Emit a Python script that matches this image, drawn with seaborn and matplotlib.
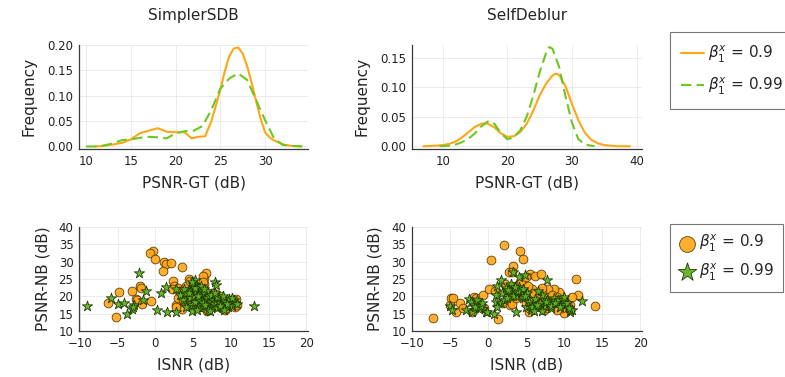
import matplotlib
matplotlib.use("Agg")
import matplotlib.pyplot as plt
import seaborn as sns

# ---------------- data ----------------
# Density curves of PSNR-GT (top row)
sdb_09_x = [11, 12, 13, 14, 15, 16, 17, 18, 19, 20, 21, 21.8, 22.5, 23.3, 24, 24.5, 25, 25.5, 26, 26.5, 27, 27.5, 28, 28.5, 29, 29.5, 30, 30.5, 31, 32, 33, 34]
sdb_09_y = [0.000, 0.001, 0.004, 0.007, 0.014, 0.026, 0.031, 0.036, 0.029, 0.028, 0.028, 0.016, 0.019, 0.020, 0.050, 0.080, 0.112, 0.148, 0.178, 0.193, 0.195, 0.183, 0.158, 0.125, 0.090, 0.055, 0.028, 0.018, 0.012, 0.004, 0.001, 0.000]
sdb_099_x = [10, 11, 12, 13, 14, 15, 16, 17, 18, 19, 20, 21, 22, 23, 24, 25, 26, 27, 28, 29, 30, 31, 32, 33, 34.5]
sdb_099_y = [0.000, 0.000, 0.002, 0.006, 0.0125, 0.014, 0.017, 0.019, 0.018, 0.016, 0.026, 0.030, 0.031, 0.040, 0.072, 0.114, 0.134, 0.144, 0.131, 0.091, 0.052, 0.016, 0.003, 0.001, 0.000]

sdl_09_x = [7, 9, 10, 11, 12, 13, 14, 15, 16, 16.5, 17, 18, 19, 20, 21, 22, 23, 24, 25, 26, 27, 27.5, 28, 29, 30, 31, 32, 33, 34, 35, 37, 39]
sdl_09_y = [0.000, 0.001, 0.002, 0.004, 0.008, 0.015, 0.024, 0.033, 0.038, 0.039, 0.038, 0.032, 0.022, 0.016, 0.017, 0.024, 0.038, 0.060, 0.086, 0.106, 0.120, 0.123, 0.121, 0.102, 0.072, 0.044, 0.023, 0.011, 0.005, 0.002, 0.000, 0.000]
sdl_099_x = [9.5, 11, 12, 13, 14, 15, 16, 17, 17.3, 18, 19, 20, 21, 22, 23, 24, 25, 26, 26.5, 27, 28, 29, 30, 31, 32, 33.5]
sdl_099_y = [0.000, 0.001, 0.003, 0.007, 0.013, 0.022, 0.034, 0.042, 0.043, 0.038, 0.022, 0.012, 0.015, 0.027, 0.050, 0.085, 0.125, 0.158, 0.168, 0.165, 0.135, 0.085, 0.040, 0.012, 0.003, 0.000]

# Scatter ISNR vs PSNR-NB (bottom row)
sdb_isnr_09 = [-0.3, -0.7, 0.0, 1.1, 1.4, 2.1, 3.5, 1.0, 4.5, 2.4, 6.4, 6.7, 6.3, -4.8, -3.1, -2.0, -1.9, -6.3, -2.5, -2.4, -1.7, -0.6, -5.2, 3.5, 2.7,
               2.5, 3.0, 3.3, 3.8, 4.2, 4.5, 4.8, 5.0, 5.2, 5.5, 5.5, 5.8, 6.0, 6.2, 6.5, 6.5, 6.8, 7.0, 7.0, 7.2,
               7.5, 7.8, 8.0, 8.2, 8.5, 8.8, 9.0, 9.2, 9.5, 9.8, 10.0, 10.3, 10.5, 10.7, 10.8,
               3.0, 3.5, 2.8, 4.0, 4.6, 5.8, 6.8, 7.5, 8.6, 9.3, 3.6, 4.3, 5.3, 2.2, 6.3]
sdb_psnr_09 = [33.2, 32.4, 30.8, 29.9, 29.3, 29.5, 28.6, 27.4, 25.0, 24.3, 25.2, 26.7, 25.9, 21.2, 21.6, 22.9, 22.5, 18.1, 19.3, 19.0, 17.7, 18.7, 14.0, 16.3, 17.5,
               23.0, 22.5, 21.5, 22.0, 21.0, 20.0, 19.0, 20.5, 18.5, 17.5, 22.0, 21.0, 19.5, 18.0, 17.0, 23.5, 20.5, 19.0, 16.0, 17.5,
               18.5, 20.0, 20.8, 19.5, 18.0, 17.0, 19.0, 16.0, 18.5, 17.5, 19.0, 18.0, 16.8, 19.2, 17.5,
               19.5, 20.5, 17.0, 23.0, 24.5, 17.0, 15.8, 21.0, 20.2, 16.5, 19.0, 18.0, 23.0, 22.0, 24.0]
sdb_isnr_099 = [-9.1, -5.8, -5.0, -4.2, -3.7, -3.1, -2.8, -3.0, -2.2, -1.3, -1.6, 0.2, 0.8, 1.4, 2.7, 1.5, 2.7, 4.9, 5.2, 7.9, 8.0, 13.1,
                3.2, 3.6, 4.0, 4.2, 4.4, 4.6, 4.8, 5.0, 5.1, 5.3, 5.4, 5.6, 5.8, 5.9, 6.0, 6.2, 6.3, 6.5, 6.6, 6.8,
                7.0, 7.1, 7.3, 7.5, 7.6, 7.8, 8.0, 8.2, 8.4, 8.6, 8.8, 9.0, 9.2, 9.4, 9.6, 9.8, 10.0, 10.2, 10.4, 10.6,
                3.8, 4.5, 5.2, 5.7, 6.1, 6.9, 7.4, 8.1, 8.9, 9.5, 4.1, 4.9, 5.5, 6.4, 7.2, 7.9, 8.5, 9.1, 10.1, 10.8]
sdb_psnr_099 = [17.2, 19.6, 17.7, 18.2, 14.8, 16.4, 17.4, 17.0, 26.7, 21.6, 18.8, 16.1, 21.1, 22.8, 22.2, 15.6, 15.6, 15.9, 24.8, 24.0, 23.3, 17.3,
                20.5, 19.0, 21.0, 18.0, 22.0, 19.5, 17.5, 23.5, 20.0, 18.5, 21.5, 17.0, 22.5, 19.0, 16.5, 20.5, 18.0, 21.0, 17.5, 19.5,
                16.0, 20.0, 18.5, 17.0, 19.0, 17.8, 18.5, 16.5, 19.5, 18.0, 17.0, 19.0, 17.5, 18.5, 16.8, 19.2, 18.0, 17.2, 19.0, 18.2,
                22.0, 21.0, 22.5, 20.0, 23.0, 21.5, 20.5, 19.8, 20.0, 17.8, 17.0, 24.0, 16.2, 22.0, 15.8, 21.0, 17.2, 16.0, 19.6, 17.8]

sdl_isnr_09 = [-7.3, 2.1, 4.2, 4.6, 0.4, 3.3, 2.7, 3.1, 5.5, 6.1, 6.9, 11.6, 14.0, -5.1, -4.9, -4.6, -4.2, -3.8, -3.3, -2.2,
               -1.9, -1.6, -0.7, -0.6, 0.1, 0.9, 1.3, 1.9, 2.8, 3.1, 3.2, 4.4, 5.4, 9.9, 10.8, 11.8, 11.0, 9.3, 8.6, 7.9,
               2.5, 3.0, 3.5, 3.8, 4.0, 4.3, 4.7, 5.0, 5.3, 5.6, 5.9, 6.2, 6.5, 6.8, 7.0, 7.3, 7.6, 7.9, 8.2, 8.5,
               8.8, 9.1, 9.4, 9.7, 10.0, 10.3, 2.2, 3.6, 4.5, 5.8, 6.4, 7.1, 7.7, 8.4, 9.0, 4.9, 6.0, 7.4, 5.2, 6.7]
sdl_psnr_09 = [13.8, 34.7, 33.1, 30.9, 30.4, 28.7, 27.1, 26.9, 26.3, 25.9, 26.5, 25.0, 17.3, 17.5, 19.4, 19.6, 15.4, 18.2, 16.5, 15.4,
               19.9, 19.4, 20.4, 16.7, 22.1, 21.6, 13.4, 18.2, 17.5, 17.7, 21.3, 24.3, 15.6, 15.1, 17.5, 20.4, 19.9, 21.3, 22.1, 22.1,
               22.5, 21.0, 23.0, 20.5, 22.0, 24.0, 21.5, 18.0, 16.5, 17.5, 19.0, 16.8, 18.5, 17.0, 21.5, 16.2, 18.0, 17.5, 19.5, 18.5,
               17.0, 19.8, 18.2, 16.5, 19.0, 17.8, 23.5, 19.5, 20.0, 22.0, 20.0, 22.5, 16.5, 20.5, 16.0, 25.5, 21.0, 19.0, 23.0, 17.8]
sdl_isnr_099 = [-5.1, -4.8, -3.0, -2.6, -2.1, -1.4, -1.2, -0.3, 0.7, 1.0, 1.0, 1.2, 1.6, 3.2, 3.6, 4.1, 4.8, 7.7, 12.3, 10.7,
                -2.3, -1.9, -1.7, -1.5, -1.0, -0.8, -0.2, 1.7, 1.1,
                1.8, 2.3, 2.8, 3.0, 3.4, 3.7, 4.0, 4.3, 4.6, 5.0, 5.3, 5.6, 5.9, 6.2, 6.5, 6.8, 7.1, 7.4, 7.7, 8.0,
                8.3, 8.6, 8.9, 9.2, 9.5, 9.8, 10.1, 10.4, 10.7, 11.0, 2.0, 2.6, 3.2, 3.9, 4.5, 5.1, 5.8, 6.4, 7.0, 7.6,
                8.2, 8.8, 9.4, 10.0, 10.6, 2.5, 3.5, 4.8, 6.0, 6.6]
sdl_psnr_099 = [17.3, 16.2, 16.0, 19.1, 15.4, 18.1, 16.4, 15.4, 14.9, 20.4, 18.4, 23.0, 24.7, 27.1, 15.6, 25.6, 26.1, 24.7, 18.6, 15.6,
                18.5, 17.6, 16.8, 19.0, 17.2, 18.2, 15.6, 18.0, 17.0,
                21.0, 22.5, 20.5, 23.5, 21.8, 20.0, 22.8, 21.2, 19.5, 17.0, 18.5, 16.2, 17.8, 19.2, 16.8, 18.0, 20.5, 17.2, 19.0, 18.2,
                16.5, 19.5, 17.8, 18.8, 16.8, 19.0, 17.5, 18.2, 16.2, 16.0, 18.8, 21.8, 20.2, 21.5, 22.0, 21.0, 16.8, 17.5, 15.8, 18.5,
                17.2, 18.0, 17.0, 19.8, 16.6, 19.6, 22.8, 20.0, 15.8, 21.5]

titles = ["SimplerSDB", "SelfDeblur"]
labels = [r"$\beta_1^x$ = 0.9", r"$\beta_1^x$ = 0.99"]

ORANGE = "#FFA516"
GREEN = "#6CC81E"
GREEN_M = "#5FB324"

# ---------------- figure ----------------
sns.set_theme(style="white")
plt.rcParams["font.family"] = ["DejaVu Sans"]

W, H = 785, 377
fig = plt.figure(figsize=(W / 100, H / 100), dpi=100)


def add_ax(x0, x1, ytop, ybot):
    return fig.add_axes([x0 / W, 1 - ybot / H, (x1 - x0) / W, (ybot - ytop) / H])


ax_tl = add_ax(79, 308, 44.7, 149)
ax_tr = add_ax(411.7, 641.7, 44.7, 149)
ax_bl = add_ax(79, 308, 227, 331)
ax_br = add_ax(411.7, 641.7, 227, 331)


def style(ax):
    for s in ["top", "right"]:
        ax.spines[s].set_visible(False)
    for s in ["left", "bottom"]:
        ax.spines[s].set_color("#3a3a3a")
        ax.spines[s].set_linewidth(0.9)
    ax.grid(True, color="#e8e8e8", linewidth=0.6)
    ax.set_axisbelow(True)
    ax.tick_params(labelsize=8.5, length=0, pad=4, colors="#222222")


# top row: density lines
for ax, (xo, yo, xg, yg), title in [
    (ax_tl, (sdb_09_x, sdb_09_y, sdb_099_x, sdb_099_y), titles[0]),
    (ax_tr, (sdl_09_x, sdl_09_y, sdl_099_x, sdl_099_y), titles[1]),
]:
    sns.lineplot(x=xo, y=yo, ax=ax, color=ORANGE, linewidth=1.5, sort=False)
    sns.lineplot(x=xg, y=yg, ax=ax, color=GREEN, linewidth=1.5, sort=False,
                 linestyle=(0, (5, 2.5)))
    style(ax)
    ax.set_xlabel("PSNR-GT (dB)", fontsize=11, labelpad=6)
    ax.set_ylabel("Frequency", fontsize=11, labelpad=8)
    ax.set_title(title, fontsize=11, pad=18)

ax_tl.set_xlim(9.2, 34.8)
ax_tl.set_ylim(-0.005, 0.2005)
ax_tl.set_xticks([10, 15, 20, 25, 30])
ax_tl.set_yticks([0, 0.05, 0.10, 0.15, 0.20])
ax_tl.set_yticklabels(["0.00", "0.05", "0.10", "0.15", "0.20"])

ax_tr.set_xlim(5.2, 40.8)
ax_tr.set_ylim(-0.0046, 0.172)
ax_tr.set_xticks([10, 20, 30, 40])
ax_tr.set_yticks([0, 0.05, 0.10, 0.15])
ax_tr.set_yticklabels(["0.00", "0.05", "0.10", "0.15"])

# bottom row: scatter
for ax, (xo, yo, xg, yg) in [
    (ax_bl, (sdb_isnr_09, sdb_psnr_09, sdb_isnr_099, sdb_psnr_099)),
    (ax_br, (sdl_isnr_09, sdl_psnr_09, sdl_isnr_099, sdl_psnr_099)),
]:
    sns.scatterplot(x=xo, y=yo, ax=ax, marker="o", s=40, color=ORANGE,
                    edgecolor="#4a3300", linewidth=0.6, alpha=0.9)
    sns.scatterplot(x=xg, y=yg, ax=ax, marker="*", s=60, color=GREEN_M,
                    edgecolor="#1f3300", linewidth=0.6, alpha=0.95)
    style(ax)
    ax.set_xlim(-10.1, 20.2)
    ax.set_ylim(10, 40)
    ax.set_xticks([-10, -5, 0, 5, 10, 15, 20])
    ax.set_yticks([10, 15, 20, 25, 30, 35, 40])
    ax.set_xlabel("ISNR (dB)", fontsize=11, labelpad=6)
    ax.set_ylabel("PSNR-NB (dB)", fontsize=11, labelpad=6)

# legends
line_handles = ax_tl.get_lines()[:2]
leg1 = fig.legend(line_handles, labels, loc="upper left",
                  bbox_to_anchor=(670 / W, 1 - 32 / H), fontsize=11,
                  frameon=True, fancybox=False, edgecolor="#555555",
                  handlelength=1.5, handletextpad=0.25, labelspacing=0.75,
                  borderpad=0.75, borderaxespad=0)
leg1.get_frame().set_linewidth(0.8)

pt_handles = ax_bl.collections[:2]
leg2 = fig.legend(pt_handles, labels, loc="upper left",
                  bbox_to_anchor=(670 / W, 1 - 224 / H), fontsize=11,
                  frameon=True, fancybox=False, edgecolor="#555555",
                  handlelength=1.0, handletextpad=0.3, labelspacing=0.5,
                  borderpad=0.6, borderaxespad=0, markerscale=1.8)
leg2.get_frame().set_linewidth(0.8)

fig.savefig("out.png", dpi=100)
